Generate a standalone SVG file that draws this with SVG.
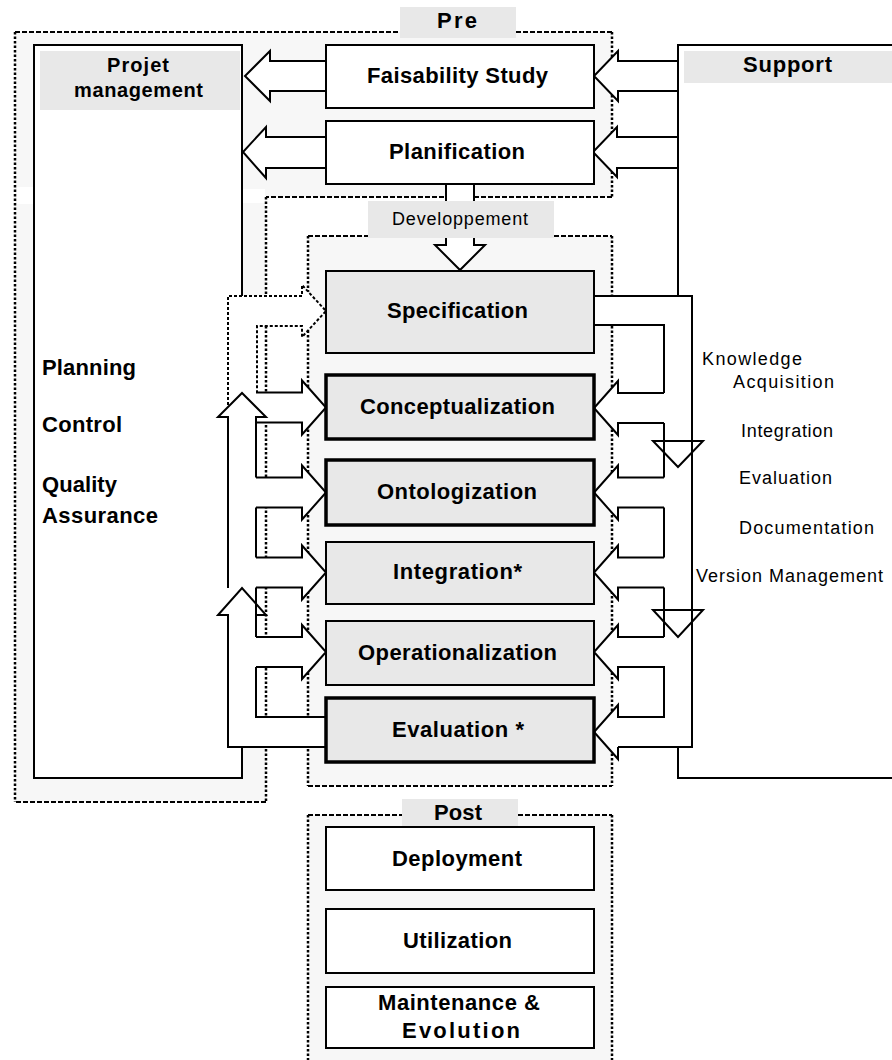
<svg xmlns="http://www.w3.org/2000/svg" width="892" height="1060" viewBox="0 0 892 1060">
<style>
  .region { fill:#f7f7f7; stroke:none; }
  .wh { fill:#fff; stroke:none; }
  .dash-h { fill:none; stroke:#000; stroke-width:2; stroke-dasharray:5 2; }
  .dash-v { fill:none; stroke:#000; stroke-width:2.5; stroke-dasharray:2.5 2; }
  .dot { fill:none; stroke:#000; stroke-width:2; stroke-dasharray:3 2; }
  .lbl { fill:#e8e8e8; stroke:none; }
  .box { fill:#fff; stroke:#000; stroke-width:2; }
  .box-g { fill:#e8e8e8; stroke:#000; stroke-width:2; }
  .box-gt { fill:#e8e8e8; stroke:#000; stroke-width:3.5; }
  .arrow { fill:#fff; stroke:#000; stroke-width:2; }
  .ln { fill:none; stroke:#000; stroke-width:2; }
  text { font-family:"Liberation Sans", Arial, sans-serif; fill:#000; }
  .b { font-weight:bold; font-size:22px; }
  .b20 { font-weight:bold; font-size:20px; }
  .n { font-size:18px; }
  .c { text-anchor:middle; }
</style>

<!-- phase regions -->
<g id="regions">
  <path class="region" d="M15,32 H612 V197 H266 V802 H15 Z"/>
  <rect class="wh" x="17" y="187" width="16" height="17"/>
  <rect class="wh" x="243" y="189" width="22" height="14"/>
  <rect class="region" x="308" y="236" width="304" height="550"/>
  <rect class="region" x="308" y="815" width="304" height="250"/>
  <rect class="wh" x="228" y="296" width="80" height="451"/>
  <path class="dash-h" d="M15,32 H400 M516,32 H612 M612,197 H266 M266,802 H15"/>
  <path class="dash-v" d="M612,32 V197 M266,197 V296 M266,326 V802 M15,32 V802"/>
  <path class="dash-h" d="M308,236 H368 M554,236 H612 M308,786 H612"/>
  <path class="dash-v" d="M308,236 V786 M612,236 V786"/>
  <path class="dash-h" d="M308,815 H402 M518,815 H612"/>
  <path class="dash-v" d="M308,815 V1062 M612,815 V1062"/>
</g>

<g id="connectors">
  <!-- Pre phase: outputs to project management, inputs from support -->
  <path class="arrow" d="M326,61 H270 V51 L245,76 L270,101 V91 H326"/>
  <path class="arrow" d="M326,137 H266 V127 L243,152 L266,178 V168 H326"/>
  <path class="arrow" d="M678,61 H618 V51 L594,76 L618,101 V91 H678"/>
  <path class="arrow" d="M678,137 H617 V127 L593,152 L617,177 V168 H678"/>
  <!-- Planification down into development -->
  <path class="arrow" d="M446,184 V245 H435 L460,270 L485,245 H474 V184"/>
</g>

<!-- phase labels -->
<g id="label-pre">
  <rect class="lbl" x="400" y="7" width="116" height="31"/>
  <text class="b c" x="457" y="28" textLength="40">Pre</text>
</g>
<g id="label-dev">
  <rect class="lbl" x="368" y="201" width="186" height="37"/>
  <text class="n c" x="460" y="225" textLength="136">Developpement</text>
</g>
<g id="label-post">
  <rect class="lbl" x="402" y="799" width="116" height="31"/>
  <text class="b c" x="458" y="820" textLength="48">Post</text>
</g>

<!-- project management column -->
<g id="project-management">
  <rect class="wh" x="34" y="45" width="208" height="733"/>
  <rect class="lbl" x="40" y="51" width="200" height="59"/>
  <path class="ln" d="M242,296 V45 H34 V778 H242 V747"/>
  <text class="b20 c" x="138" y="72" textLength="62">Projet</text>
  <text class="b20 c" x="138.5" y="97" textLength="129">management</text>
  <text class="b" x="42" y="375" textLength="94">Planning</text>
  <text class="b" x="42" y="432" textLength="80">Control</text>
  <text class="b" x="42" y="492" textLength="75">Quality</text>
  <text class="b" x="42" y="523" textLength="116">Assurance</text>
</g>

<!-- support column -->
<g id="support">
  <rect class="wh" x="678" y="45" width="220" height="733"/>
  <rect class="lbl" x="684" y="51" width="214" height="32"/>
  <path class="ln" d="M898,45 H678 V296 M678,747 V778 H898"/>
  <text class="b c" x="787.5" y="72" textLength="89">Support</text>
  <text class="n" x="702" y="365" textLength="100">Knowledge</text>
  <text class="n" x="733" y="388" textLength="101">Acquisition</text>
  <text class="n" x="741" y="437" textLength="92">Integration</text>
  <text class="n" x="739" y="484" textLength="93">Evaluation</text>
  <text class="n" x="739" y="534" textLength="135">Documentation</text>
  <text class="n" x="696" y="582" textLength="187">Version Management</text>
</g>

<g id="connectors-dev">
  <!-- left bus: management into activities, evaluation feedback upward -->
  <g class="wh">
    <rect x="228" y="417" width="28" height="330"/>
    <rect x="228" y="717" width="98" height="30"/>
    <polygon points="218,417 242,393 266,417"/>
    <polygon points="218,615 242,588 266,615"/>
    <polygon points="228,417 228,296 302,296 302,285 326,311 302,337 302,326 257,326 257,417"/>
    <path d="M256,392.5 H302 V380.5 L326,407.5 L302,434.5 V422.5 H256 Z"/>
    <path d="M256,477.5 H302 V465.5 L326,492.5 L302,519.5 V507.5 H256 Z"/>
    <path d="M256,557.5 H302 V545.5 L326,572.5 L302,599.5 V587.5 H256 Z"/>
    <path d="M256,637 H302 V625 L326,652 L302,679 V667 H256 Z"/>
  </g>
  <path class="dot" d="M228,405 V296 H302 V285 L326,311 L302,337 V326 H257 V392"/>
  <path class="ln" d="M326,747 H228 V615 H218 L242,588 L266,615 H256 V637"/>
  <path class="ln" d="M228,588 V417 H218 L242,393 L266,417 H256 V423"/>
  <path class="ln" d="M256,392.5 H302 V380.5 L326,407.5 L302,434.5 V422.5 H256"/>
  <path class="ln" d="M256,477.5 H302 V465.5 L326,492.5 L302,519.5 V507.5 H256"/>
  <path class="ln" d="M256,557.5 H302 V545.5 L326,572.5 L302,599.5 V587.5 H256"/>
  <path class="ln" d="M256,637 H302 V625 L326,652 L302,679 V667 H256"/>
  <path class="ln" d="M256,422.5 V477.5 M256,507.5 V557.5 M256,587.5 V637 M256,667 V717 H326"/>

  <!-- right bus: support into activities, specification downward -->
  <g class="wh">
    <rect x="594" y="296" width="98" height="29"/>
    <rect x="664" y="296" width="28" height="451"/>
    <rect x="618" y="717" width="74" height="30"/>
    <polygon points="653,441 703,441 678,467"/>
    <polygon points="653,610 703,610 678,637"/>
    <path d="M664,393 H618 V381 L594,408 L618,435 V423 H664 Z"/>
    <path d="M664,477.5 H618 V465.5 L594,492.5 L618,519.5 V507.5 H664 Z"/>
    <path d="M664,557.5 H618 V545.5 L594,572.5 L618,599.5 V587.5 H664 Z"/>
    <path d="M664,637 H618 V625 L594,652 L618,679 V667 H664 Z"/>
    <path d="M664,717 H618 V705 L594,732 L618,759 V747 H664 Z"/>
  </g>
  <path class="ln" d="M594,296 H692 V441 M594,325 H664 V393"/>
  <path class="ln" d="M653,441 H703 L678,467 Z"/>
  <path class="ln" d="M692,441 V610 M664,423 V477.5 M664,507.5 V557.5 M664,587.5 V637"/>
  <path class="ln" d="M653,610 H703 L678,637 Z"/>
  <path class="ln" d="M692,610 V747 H618"/>
  <path class="ln" d="M664,393 H618 V381 L594,408 L618,435 V423 H664"/>
  <path class="ln" d="M664,477.5 H618 V465.5 L594,492.5 L618,519.5 V507.5 H664"/>
  <path class="ln" d="M664,557.5 H618 V545.5 L594,572.5 L618,599.5 V587.5 H664"/>
  <path class="ln" d="M664,637 H618 V625 L594,652 L618,679 V667 H664 V717 H618 V705 L594,732 L618,759 V747"/>
</g>

<!-- pre-development activities -->
<g id="faisability-study">
  <rect class="box" x="326" y="45" width="268" height="63"/>
  <text class="b c" x="457.5" y="83" textLength="181">Faisability Study</text>
</g>
<g id="planification">
  <rect class="box" x="326" y="121" width="268" height="63"/>
  <text class="b c" x="457" y="159" textLength="136">Planification</text>
</g>

<!-- development activities -->
<g id="specification">
  <rect class="box-g" x="326" y="271" width="268" height="82"/>
  <text class="b c" x="457.5" y="318" textLength="141">Specification</text>
</g>
<g id="conceptualization">
  <rect class="box-gt" x="326" y="375" width="268" height="64"/>
  <text class="b c" x="457.5" y="414" textLength="195">Conceptualization</text>
</g>
<g id="ontologization">
  <rect class="box-gt" x="326" y="460" width="268" height="65"/>
  <text class="b c" x="457" y="499" textLength="160">Ontologization</text>
</g>
<g id="integration">
  <rect class="box-g" x="326" y="542" width="268" height="62"/>
  <text class="b c" x="457.5" y="579" textLength="129">Integration*</text>
</g>
<g id="operationalization">
  <rect class="box-g" x="326" y="621" width="268" height="64"/>
  <text class="b c" x="457.5" y="660" textLength="199">Operationalization</text>
</g>
<g id="evaluation">
  <rect class="box-gt" x="326" y="698" width="268" height="64"/>
  <text class="b c" x="458" y="737" textLength="132">Evaluation *</text>
</g>

<!-- post-development activities -->
<g id="deployment">
  <rect class="box" x="326" y="827" width="268" height="63"/>
  <text class="b c" x="457" y="866" textLength="130">Deployment</text>
</g>
<g id="utilization">
  <rect class="box" x="326" y="909" width="268" height="64"/>
  <text class="b c" x="457.5" y="948" textLength="109">Utilization</text>
</g>
<g id="maintenance-evolution">
  <rect class="box" x="326" y="987" width="268" height="61"/>
  <text class="b c" x="459" y="1010" textLength="162">Maintenance &amp;</text>
  <text class="b c" x="461" y="1038" textLength="118">Evolution</text>
</g>
</svg>
